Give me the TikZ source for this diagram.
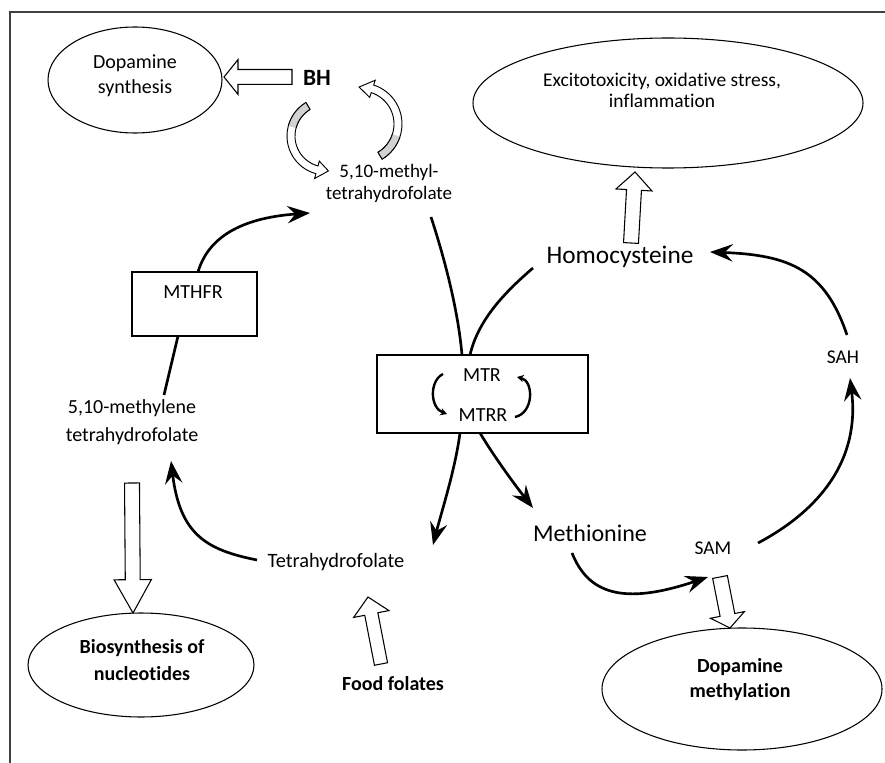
\documentclass[tikz,border=0pt]{standalone}
\usepackage{fontspec}
\setmainfont{Carlito}[RawFeature={-liga;-dlig;-clig}]
\usetikzlibrary{arrows.meta,calc,shapes.geometric}
\newcommand{\fsz}[2]{\fontsize{#1}{#2}\selectfont}
\newcommand{\hollowarrow}[5]{%
  \coordinate (hb) at ($(#2)!#5!(#1)$);
  \path[hollow] ($(#1)!#3!90:(#2)$) -- ($(hb)!#3!-90:(#1)$) -- ($(hb)!#4!-90:(#1)$) -- (#2)
     -- ($(hb)!#4!90:(#1)$) -- ($(hb)!#3!90:(#1)$) -- ($(#1)!#3!-90:(#2)$) -- cycle;}
\tikzset{
  txt/.style={inner sep=0pt, align=center},
  ell/.style={draw, ellipse, line width=0.8pt, inner sep=0pt},
  boxn/.style={draw, rectangle, line width=1.2pt, fill=white, inner sep=0pt},
  flow/.style={line width=2pt, -{Stealth[length=17pt,width=13pt,inset=6pt]}},
  plainline/.style={line width=2pt},
  hollow/.style={draw, fill=white, line width=0.8pt, line join=miter},
  frame/.style={draw=black!75, line width=0.8pt},
  band/.style={draw, line width=0.7pt, fill=white},
  minor/.style={line width=1.8pt, -{Stealth[length=5pt,width=5.5pt]}}
}
\begin{document}
\begin{tikzpicture}[x=0.75pt,y=-0.75pt]
\useasboundingbox (0,0) rectangle (885,763);
\draw[frame] (10,763) -- (10,12) -- (885,12);

% ellipses and their texts
\node[ell, minimum width=130.5pt, minimum height=79.5pt] (dsE) at (135,80) {};
\node[txt, font=\fsz{15}{18.75}] (dsT) at (135,76) {Dopamine\\synthesis};
\node[ell, minimum width=292.5pt, minimum height=97.5pt] (exE) at (668,103) {};
\node[txt, font=\fsz{14.6}{15.5}] (exT) at (662,90) {Excitotoxicity, oxidative stress,\\inflammation};
\node[ell, minimum width=169.5pt, minimum height=78pt] (bnE) at (141,665) {};
\node[txt, font=\bfseries\fsz{15}{20}] (bnT) at (142,660) {Biosynthesis of\\nucleotides};
\node[ell, minimum width=210pt, minimum height=91.5pt] (dmE) at (742,689) {};
\node[txt, font=\bfseries\fsz{15}{18.75}] (dmT) at (740,680) {Dopamine\\methylation};

% text labels
\node[txt, font=\bfseries\fsz{17.5}{20}] (bh) at (317,78) {BH};
\node[txt, font=\fsz{14.3}{16.5}] (mthf) at (389,183) {5,10-methyl-\\tetrahydrofolate};
\node[txt, font=\fsz{19}{22}] (hcy) at (620,257) {Homocysteine};
\node[txt, font=\fsz{18}{22}] (met) at (590,533) {Methionine};
\node[txt, font=\fsz{14.6}{18}] (sam) at (713,548) {SAM};
\node[txt, font=\fsz{14.6}{18}] (sah) at (843,357) {SAH};
\node[txt, font=\fsz{15}{21}] (mthylene) at (132,422) {5,10-methylene\\tetrahydrofolate};
\node[txt, font=\fsz{15.3}{18}] (thf) at (336,562) {Tetrahydrofolate};
\node[txt, font=\bfseries\fsz{15}{18}] (food) at (393,684) {Food folates};

% coordinates for connector ends
\coordinate (mthfrTop) at (198,272);
\coordinate (mthfTip) at (310,213);
\coordinate (mthyleneTop) at (164,395);
\coordinate (mthfrBot) at (178,336);
\coordinate (thfStart) at (257,560);
\coordinate (mthyleneTip) at (171,461);
\coordinate (mthfOut) at (431,217);
\coordinate (mtrIn1) at (462,355);
\coordinate (mtrOut1) at (460,433);
\coordinate (thfTip) at (433,545);
\coordinate (hcyOut) at (533,268);
\coordinate (mtrIn2) at (470,355);
\coordinate (mtrOut2) at (480,433);
\coordinate (metTip) at (533,508);
\coordinate (samOut) at (758,543);
\coordinate (sahTip) at (850,378);
\coordinate (sahOut) at (847,335);
\coordinate (hcyTip) at (710,252);
\coordinate (metOut) at (572,553);
\coordinate (samTip) at (708,577);

% black connectors
\draw[flow] (mthfrTop) .. controls (208,238) and (240,218) .. (mthfTip);
\draw[plainline] (mthyleneTop) -- (mthfrBot);
\draw[flow] (thfStart) .. controls (207,550) and (180,535) .. (mthyleneTip);
\draw[plainline] (mthfOut) .. controls (445,260) and (458,310) .. (mtrIn1);
\draw[flow] (mtrOut1) .. controls (455,470) and (442,510) .. (thfTip);
\draw[plainline] (hcyOut) .. controls (505,292) and (478,320) .. (mtrIn2);
\draw[flow] (mtrOut2) .. controls (495,458) and (515,485) .. (metTip);
\draw[flow] (samOut) .. controls (820,510) and (860,460) .. (sahTip);
\draw[flow] (sahOut) .. controls (825,270) and (790,255) .. (hcyTip);
\draw[flow] (metOut) .. controls (588,593) and (622,606) .. (samTip);

% boxes
\node[boxn, minimum width=158.25pt, minimum height=58.5pt] (mtr) at (482.5,394) {};
\node[txt, font=\fsz{15}{18}] (mtrT) at (482,375) {MTR};
\node[txt, font=\fsz{15}{18}] (mtrrT) at (483,415) {MTRR};
\node[boxn, minimum width=93.75pt, minimum height=48pt] (mthfr) at (194.5,304) {};
\node[txt, font=\fsz{15}{18}] (mthfrT) at (193,292) {MTHFR};

% small arrows inside MTR box
\draw[minor] (443,374) .. controls (429,381) and (430,408) .. (447,414);
\draw[minor] (515,417) .. controls (534,413) and (534,381) .. (517,377);

% hollow block arrows
\coordinate (bhOut) at (292,77);
\coordinate (dsIn) at (224,77);
\hollowarrow{bhOut}{dsIn}{5.6pt}{13pt}{10.5pt}
\coordinate (hcyUp) at (631,243);
\coordinate (exIn) at (635,172);
\hollowarrow{hcyUp}{exIn}{5.6pt}{13.5pt}{13.5pt}
\coordinate (mthyleneDown) at (132,483);
\coordinate (bnIn) at (133,613);
\hollowarrow{mthyleneDown}{bnIn}{5.6pt}{14pt}{25pt}
\coordinate (samDown) at (720,577);
\coordinate (dmIn) at (730,628);
\hollowarrow{samDown}{dmIn}{5.6pt}{13pt}{10pt}
\coordinate (foodUp) at (381,664);
\coordinate (thfIn) at (368,597);
\hollowarrow{foodUp}{thfIn}{5pt}{13.5pt}{13pt}

% circular block arrows around BH
\begin{scope}[shift={(326,136)}]
  \draw[band] (239:39) arc[start angle=239, end angle=105, radius=39] -- (105:44) -- (86:35)
     -- (105:26) -- (105:31) arc[start angle=105, end angle=239, radius=31] -- cycle;
  \fill[gray!35] (239:39) arc[start angle=239, end angle=195, radius=39] -- (195:31)
     arc[start angle=195, end angle=239, radius=31] -- cycle;
  \draw[line width=0.7pt] (239:39) -- (239:31);
  \draw[line width=0.7pt] (239:39) arc[start angle=239, end angle=195, radius=39];
  \draw[line width=0.7pt] (239:31) arc[start angle=239, end angle=195, radius=31];
\end{scope}
\begin{scope}[shift={(361,124)}]
  \draw[band] (59:41) arc[start angle=59, end angle=-72, radius=41] -- (-72:46) -- (-93:37)
     -- (-72:28) -- (-72:33) arc[start angle=-72, end angle=59, radius=33] -- cycle;
  \fill[gray!35] (59:41) arc[start angle=59, end angle=18, radius=41] -- (18:33)
     arc[start angle=18, end angle=59, radius=33] -- cycle;
  \draw[line width=0.7pt] (59:41) -- (59:33);
  \draw[line width=0.7pt] (59:41) arc[start angle=59, end angle=18, radius=41];
  \draw[line width=0.7pt] (59:33) arc[start angle=59, end angle=18, radius=33];
\end{scope}
\end{tikzpicture}
\end{document}
